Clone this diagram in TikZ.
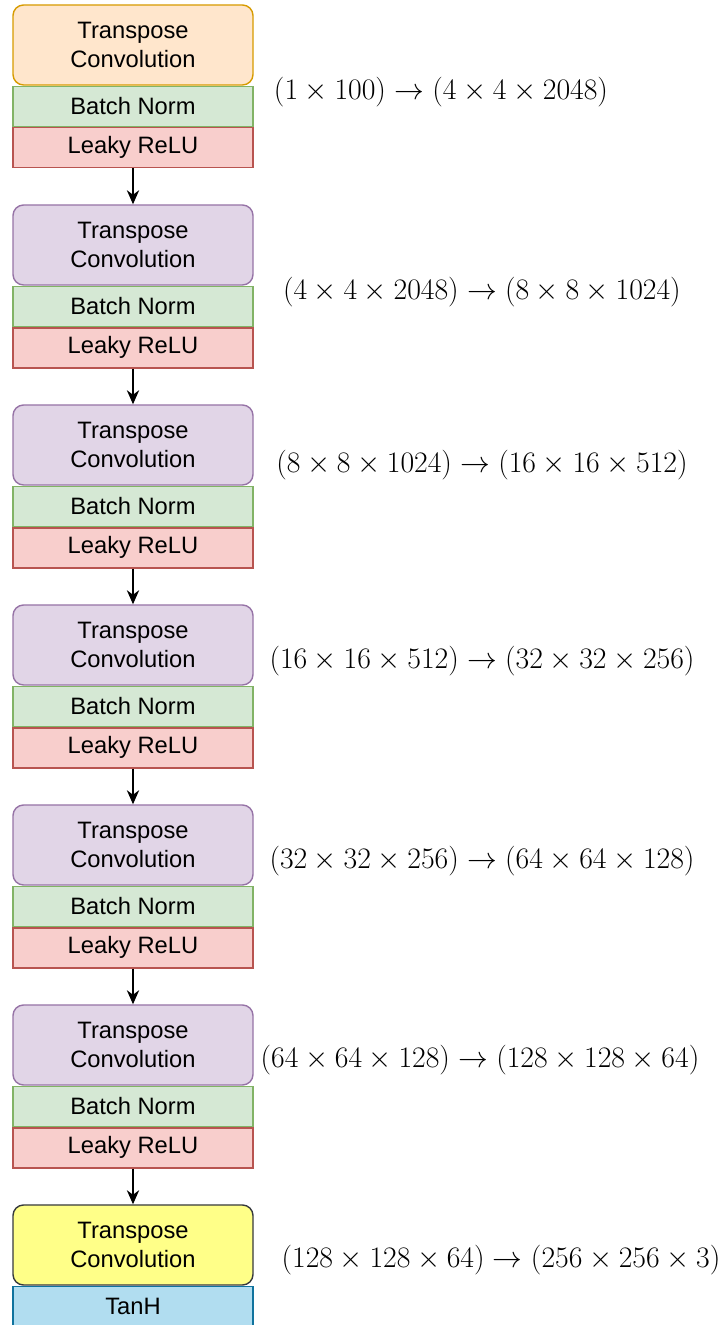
\documentclass[tikz,border=0pt]{standalone}
\usepackage{amsmath}
\usepackage{fontspec}
\setsansfont{Liberation Sans}
\usetikzlibrary{positioning,arrows.meta}

\definecolor{convfill}{HTML}{E1D5E7}
\definecolor{convdraw}{HTML}{9673A6}
\definecolor{firstfill}{HTML}{FFE6CC}
\definecolor{firstdraw}{HTML}{D79B00}
\definecolor{lastfill}{HTML}{FFFF88}
\definecolor{lastdraw}{HTML}{36393D}
\definecolor{bnfill}{HTML}{D5E8D4}
\definecolor{bndraw}{HTML}{82B366}
\definecolor{lrfill}{HTML}{F8CECC}
\definecolor{lrdraw}{HTML}{B85450}
\definecolor{tanhfill}{HTML}{B1DDF0}
\definecolor{tanhdraw}{HTML}{10739E}

\begin{document}
\begin{tikzpicture}[
    layer/.style={minimum width=4.8cm, inner sep=0pt, line width=0.8pt, align=center,
        font=\sffamily\fontsize{13.5}{17}\selectfont},
    conv/.style={layer, draw=convdraw, fill=convfill, rounded corners=6pt, minimum height=1.6cm},
    bn/.style={layer, draw=bndraw, fill=bnfill, minimum height=0.8cm},
    lr/.style={layer, draw=lrdraw, fill=lrfill, minimum height=0.8cm},
    dim/.style={font=\fontsize{16}{19}\selectfont, scale=0.98},
    flow/.style={-{Stealth[length=8pt,width=7pt]}, line width=0.8pt},
]
\useasboundingbox (0,0) rectangle (14.48,26.5);

% Block 1
\node[conv, draw=firstdraw, fill=firstfill] (conv1) at (2.66, 25.6) {Transpose\\Convolution};
\node[bn, below=0pt of conv1] (bn1) {Batch Norm};
\node[lr, below=0pt of bn1] (lr1) {Leaky ReLU};

% Block 2
\node[conv] (conv2) at (2.66, 21.6) {Transpose\\Convolution};
\node[bn, below=0pt of conv2] (bn2) {Batch Norm};
\node[lr, below=0pt of bn2] (lr2) {Leaky ReLU};

% Block 3
\node[conv] (conv3) at (2.66, 17.6) {Transpose\\Convolution};
\node[bn, below=0pt of conv3] (bn3) {Batch Norm};
\node[lr, below=0pt of bn3] (lr3) {Leaky ReLU};

% Block 4
\node[conv] (conv4) at (2.66, 13.6) {Transpose\\Convolution};
\node[bn, below=0pt of conv4] (bn4) {Batch Norm};
\node[lr, below=0pt of bn4] (lr4) {Leaky ReLU};

% Block 5
\node[conv] (conv5) at (2.66, 9.6) {Transpose\\Convolution};
\node[bn, below=0pt of conv5] (bn5) {Batch Norm};
\node[lr, below=0pt of bn5] (lr5) {Leaky ReLU};

% Block 6
\node[conv] (conv6) at (2.66, 5.6) {Transpose\\Convolution};
\node[bn, below=0pt of conv6] (bn6) {Batch Norm};
\node[lr, below=0pt of bn6] (lr6) {Leaky ReLU};

% Output block
\node[conv, draw=lastdraw, fill=lastfill] (conv7) at (2.66, 1.6) {Transpose\\Convolution};
\node[lr, draw=tanhdraw, fill=tanhfill, below=0pt of conv7] (tanh7) {TanH};

% Arrows between blocks
\draw[flow] (lr1) -- (conv2);
\draw[flow] (lr2) -- (conv3);
\draw[flow] (lr3) -- (conv4);
\draw[flow] (lr4) -- (conv5);
\draw[flow] (lr5) -- (conv6);
\draw[flow] (lr6) -- (conv7);

% Shape annotations
\node[dim] (dim1) at (8.82, 24.66) {$(1 \times 100) \rightarrow (4 \times 4 \times 2048)$};
\node[dim] (dim2) at (9.64, 20.66) {$(4 \times 4 \times 2048) \rightarrow (8 \times 8 \times 1024)$};
\node[dim] (dim3) at (9.64, 17.2) {$(8 \times 8 \times 1024) \rightarrow (16 \times 16 \times 512)$};
\node[dim] (dim4) at (9.64, 13.28) {$(16 \times 16 \times 512) \rightarrow (32 \times 32 \times 256)$};
\node[dim] (dim5) at (9.64, 9.28) {$(32 \times 32 \times 256) \rightarrow (64 \times 64 \times 128)$};
\node[dim] (dim6) at (9.6, 5.3) {$(64 \times 64 \times 128) \rightarrow (128 \times 128 \times 64)$};
\node[dim] (dim7) at (10.02, 1.3) {$(128 \times 128 \times 64) \rightarrow (256 \times 256 \times 3)$};
\end{tikzpicture}
\end{document}
